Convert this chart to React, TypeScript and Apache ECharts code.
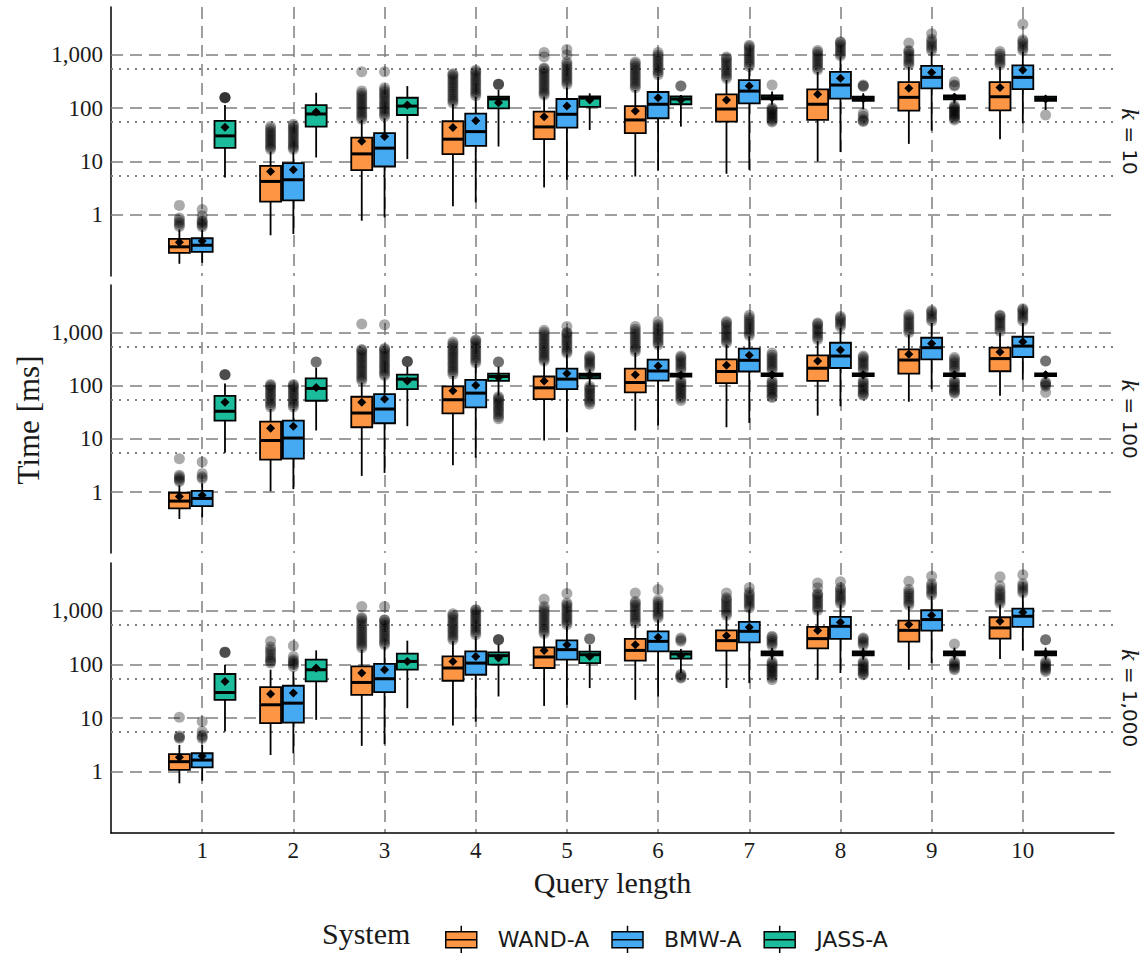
import React, { useEffect, useRef } from 'react';
import * as echarts from 'echarts';

// ---------- data ----------
const categories = ['1', '2', '3', '4', '5', '6', '7', '8', '9', '10'];
const systems = ['WAND-A', 'BMW-A', 'JASS-A'];
const facetLabels = ['10', '100', '1,000'];
const yTickValues = [1, 10, 100, 1000];
const yTickLabels = ['1', '10', '100', '1,000'];
const refLines = [5.5, 55, 550];

// box stats: [whisker low, Q1, median, Q3, whisker high] in ms
const wandK10Box = [
  [0.122, 0.195, 0.253, 0.357, 0.532], [0.416, 1.77, 4.24, 8.31, 15.4], [0.78, 6.91, 13.9, 28.0, 60],
  [1.45, 13.7, 26.2, 56.7, 119], [3.27, 26.2, 44.4, 85.7, 163], [5.25, 33.9, 60, 109, 218],
  [5.9, 55.7, 96.2, 181, 334], [10, 60, 118, 224, 478], [21.4, 89.4, 159, 307, 592], [26.2, 91, 163, 307, 592],
];
const bmwK10Box = [
  [0.127, 0.204, 0.271, 0.366, 0.53], [0.44, 1.87, 4.56, 9.33, 15.4], [0.9, 8.07, 17.8, 33.9, 64.5],
  [1.72, 19.6, 36.3, 78.6, 163], [4.56, 43.1, 76.6, 148, 244], [6.8, 64.5, 118, 200, 385],
  [7.0, 123, 208, 334, 553], [15, 150, 270, 478, 910], [37.9, 234, 376, 618, 1128], [52, 227, 376, 629, 1128],
];
const jassK10Box = [
  [5.03, 18.0, 30.2, 57.4, 114], [11.9, 45, 77.6, 114, 194], [11.1, 74.3, 109, 156, 258],
  [19.1, 99, 148, 163, 218], [39, 105, 154, 166, 189], [45, 118, 148, 166, 176],
  [115, 145, 156, 172, 205], [95, 137, 150, 163, 190], [123, 146, 159, 173, 189], [92, 137, 148, 163, 170],
];
const wandK10Mean = [0.308, 6.51, 24.0, 43.1, 69.1, 88.3, 142, 181, 234, 244];
const bmwK10Mean = [0.327, 7.0, 29.3, 58.2, 109, 156, 258, 360, 466, 514];
const jassK10Mean = [43.8, 84.6, 114, 126, 142, 142, 156, 150, 159, 148];
const wandK10Out = [
  [0.61, 0.66, 0.72, 0.8, 0.88, 1.51],
  [17, 18.5, 20, 22, 24, 26, 28.5, 31, 34, 37, 41, 45],
  [62, 68, 75, 82, 90, 99, 108, 118, 130, 143, 157, 172, 190, 210, 480],
  [125, 137, 150, 165, 182, 200, 220, 242, 265, 292, 320, 350, 385, 420, 440],
  [175, 192, 210, 230, 255, 280, 308, 340, 372, 410, 450, 495, 540, 560, 910, 1100],
  [240, 262, 290, 318, 350, 385, 423, 465, 510, 560, 615, 675, 730],
  [360, 395, 435, 478, 525, 578, 635, 700, 770, 845, 900],
  [520, 570, 628, 690, 760, 835, 920, 1010, 1110, 1200],
  [640, 700, 770, 850, 935, 1030, 1130, 1200, 1650],
  [640, 700, 770, 850, 935, 1030, 1150],
];
const bmwK10Out = [
  [0.6, 0.65, 0.69, 0.75, 0.8, 0.97, 1.26],
  [17, 18.5, 20, 22, 24, 26.5, 29, 32, 35, 38.5, 42, 46, 50],
  [70, 77, 85, 93, 102, 112, 123, 135, 149, 164, 180, 198, 218, 240, 480],
  [170, 187, 205, 225, 248, 272, 300, 330, 363, 400, 440, 480, 510],
  [280, 308, 338, 372, 410, 450, 495, 545, 600, 660, 730, 1000, 1250],
  [420, 462, 508, 560, 615, 677, 745, 820, 900, 990, 1100],
  [600, 660, 726, 800, 880, 968, 1065, 1170, 1290, 1400, 1500],
  [950, 1045, 1150, 1265, 1390, 1530, 1680, 1750],
  [1200, 1320, 1450, 1600, 1760, 1950, 2450],
  [1200, 1320, 1450, 1600, 1760, 1900, 3700],
];
const jassK10Out = [
  [156, 156, 156, 160], [], [], [278, 278, 280], [], [258, 260],
  [270, 100, 95, 90, 85, 80, 75, 70, 66, 62, 58, 55],
  [270, 260, 255, 80, 70, 62, 58, 56],
  [311, 270, 260, 110, 104, 98, 92, 87, 82, 77, 72, 68, 64, 60],
  [74],
];

const wandK100Box = [
  [0.313, 0.496, 0.68, 0.975, 1.35], [1.04, 4.08, 9.35, 21.2, 36.5], [2.02, 16.6, 30.7, 62, 115],
  [3.19, 30.3, 54.5, 96.9, 153], [9.35, 56.1, 91.2, 149, 272], [14.4, 74.8, 115, 210, 418],
  [16.6, 112, 185, 313, 597], [27.4, 123, 213, 372, 688], [50, 169, 304, 481, 917], [64.7, 187, 323, 518, 987],
];
const bmwK100Box = [
  [0.337, 0.548, 0.763, 1.06, 1.45], [1.14, 4.26, 10.4, 22.1, 36.5], [2.3, 19.7, 36.5, 69.6, 143],
  [4.44, 39.3, 72.6, 129, 253], [13.4, 86.3, 133, 210, 388], [17.8, 125, 189, 309, 555],
  [20, 185, 300, 496, 853], [41, 215, 361, 642, 1223], [86.3, 313, 518, 796, 1517], [129, 346, 555, 831, 1517],
];
const jassK100Box = [
  [5.51, 22.1, 33.1, 64.7, 110], [14.4, 52.2, 88.9, 137, 219], [17.4, 86.3, 133, 162, 229],
  [64.7, 123, 149, 169, 229], [102, 138, 157, 169, 204], [133, 149, 160, 169, 187],
  [133, 151, 161, 171, 187], [133, 151, 161, 171, 187], [133, 151, 161, 171, 187], [133, 151, 161, 171, 187],
];
const wandK100Mean = [0.83, 15.9, 48.7, 80.2, 123, 160, 242, 291, 388, 429];
const bmwK100Mean = [0.88, 17.4, 56.1, 102, 169, 235, 372, 467, 623, 670];
const jassK100Mean = [48.7, 92.8, 123, 143, 157, 157, 161, 161, 161, 161];
const wandK100Out = [
  [1.58, 1.7, 1.8, 1.95, 2.08, 4.26],
  [40, 44, 48, 53, 58, 64, 70, 77, 85, 93, 100, 105],
  [125, 137, 150, 165, 182, 200, 220, 242, 265, 292, 320, 350, 385, 420, 460, 480, 1450],
  [165, 182, 200, 220, 242, 265, 292, 320, 350, 385, 420, 460, 505, 555, 610, 660],
  [290, 320, 350, 385, 425, 465, 510, 560, 615, 680, 750, 820, 900, 1000, 1100],
  [440, 485, 530, 585, 645, 710, 780, 860, 945, 1040, 1150, 1300],
  [640, 705, 775, 850, 935, 1030, 1130, 1250, 1370, 1500, 1600],
  [740, 815, 895, 985, 1085, 1190, 1310, 1440, 1500],
  [1000, 1100, 1210, 1330, 1460, 1610, 1770, 1950, 2150],
  [1050, 1155, 1270, 1400, 1540, 1690, 1860, 2050, 2100],
];
const bmwK100Out = [
  [1.8, 1.95, 2.23, 3.69],
  [40, 44, 48, 53, 58, 64, 70, 77, 85, 93, 100, 105],
  [155, 170, 187, 205, 226, 248, 273, 300, 330, 363, 400, 440, 480, 500, 1400],
  [270, 297, 327, 360, 395, 435, 478, 525, 578, 635, 700, 720],
  [410, 450, 495, 545, 600, 660, 725, 800, 880, 970, 1000, 1300],
  [590, 650, 715, 785, 865, 950, 1045, 1150, 1265, 1390, 1600],
  [880, 970, 1065, 1170, 1290, 1420, 1560, 1720, 1890, 2100],
  [1280, 1410, 1550, 1700, 1870, 2000],
  [1650, 1815, 2000, 2200, 2420, 2600],
  [1650, 1815, 2000, 2200, 2420, 2650, 2800],
];
const jassK100Out = [
  [160, 160, 162], [279, 280], [284, 284, 286],
  [279, 279, 62, 58, 54, 50, 46, 42, 38, 35, 32, 29, 26, 24],
  [215, 235, 258, 283, 310, 340, 360, 98, 90, 83, 76, 70, 64, 58, 53, 49, 45],
  [195, 214, 235, 258, 283, 310, 340, 360, 125, 115, 106, 97, 89, 82, 75, 69, 63, 58, 53],
  [195, 214, 235, 258, 283, 310, 340, 373, 410, 125, 115, 106, 97, 89, 82, 75, 69, 63, 60],
  [195, 214, 235, 258, 283, 310, 340, 360, 125, 115, 106, 97, 89, 82, 75, 69, 66],
  [195, 214, 235, 258, 283, 310, 340, 125, 115, 106, 97, 89, 82, 76, 72],
  [290, 290, 118, 110, 104, 98, 75],
];

const wandK1000Box = [
  [0.607, 1.08, 1.54, 2.12, 3.16], [2.05, 8.04, 17.7, 37.9, 79.8], [3.03, 27.2, 46.2, 92, 189],
  [7.25, 49.7, 85.9, 141, 270], [16.9, 85.9, 138, 208, 360], [21.9, 118, 183, 299, 554],
  [36.3, 181, 278, 433, 793], [51.9, 200, 303, 502, 982], [79.8, 267, 433, 658, 1218], [126, 303, 481, 759, 1312],
];
const bmwK1000Box = [
  [0.679, 1.21, 1.65, 2.21, 3.16], [2.21, 8.25, 19, 40.1, 74.1], [3.25, 30.5, 54.2, 103, 212],
  [8.61, 64.3, 106, 175, 335], [17.7, 123, 189, 282, 515], [25.3, 175, 270, 415, 687],
  [45, 259, 415, 623, 1057], [69.2, 299, 515, 772, 1312], [106, 428, 687, 1025, 1875], [183, 502, 793, 1104, 2018],
];
const jassK1000Box = [
  [5.6, 21.9, 30, 66.4, 99], [9.27, 48.2, 79.8, 123, 183], [15.3, 79.8, 114, 159, 278],
  [25.3, 99, 146, 168, 234], [36.3, 106, 152, 173, 234], [69.2, 128, 157, 175, 195],
  [123, 148, 161, 175, 206], [123, 148, 161, 175, 206], [123, 148, 161, 175, 206], [123, 148, 161, 175, 206],
];
const wandK1000Mean = [1.86, 28, 69.2, 114, 183, 234, 345, 428, 554, 639];
const bmwK1000Mean = [1.97, 29.3, 79.8, 141, 234, 321, 493, 612, 827, 942];
const jassK1000Mean = [48.2, 85.9, 114, 132, 141, 146, 161, 161, 161, 161];
const wandK1000Out = [
  [4.21, 4.4, 4.65, 10.4],
  [106, 115, 123, 135, 152, 170, 189, 212, 270],
  [205, 225, 248, 272, 300, 330, 363, 400, 440, 485, 533, 586, 645, 710, 750, 1200],
  [290, 320, 350, 385, 425, 465, 510, 560, 615, 680, 750, 820, 880],
  [380, 418, 460, 505, 555, 610, 670, 740, 815, 895, 985, 1080, 1200, 1650],
  [590, 650, 715, 785, 865, 950, 1045, 1150, 1265, 1390, 1500, 2150],
  [830, 913, 1005, 1105, 1215, 1340, 1470, 1620, 1750, 2150],
  [1030, 1130, 1245, 1370, 1505, 1655, 1820, 2000, 2100, 2700, 3300],
  [1280, 1410, 1550, 1700, 1870, 2060, 2250, 2500, 3550],
  [1380, 1520, 1670, 1840, 2020, 2220, 2450, 2900, 4300],
];
const bmwK1000Out = [
  [4.21, 4.5, 4.86, 5.6, 8.61],
  [91, 100, 106, 115, 123, 141, 224],
  [235, 258, 284, 312, 343, 378, 415, 457, 503, 553, 608, 669, 680, 1200],
  [360, 396, 436, 480, 528, 580, 638, 702, 772, 850, 935, 1030, 1050],
  [550, 605, 665, 732, 805, 885, 975, 1070, 1180, 1300, 1400, 2100],
  [740, 815, 895, 985, 1085, 1190, 1310, 1440, 1600, 2500],
  [1130, 1245, 1370, 1505, 1655, 1820, 2000, 2200, 2700],
  [1380, 1520, 1670, 1840, 2020, 2220, 2450, 2700, 3500],
  [1980, 2180, 2400, 2640, 2900, 3200, 4400],
  [2180, 2400, 2640, 2900, 3200, 4700],
];
const jassK1000Out = [
  [168, 168, 170], [], [], [290, 290, 292], [299, 300],
  [270, 290, 312, 66, 62, 58, 56],
  [225, 245, 268, 292, 320, 335, 112, 104, 97, 90, 84, 78, 72, 67, 62, 57, 52],
  [228, 250, 272, 298, 312, 112, 104, 97, 90, 84, 78, 72, 67, 64],
  [240, 112, 104, 97, 91, 85, 80],
  [290, 290, 112, 104, 97, 91, 85, 79, 74],
];

// ---------- styling / layout ----------
const COLORS = ['#fd9644', '#45aaf2', '#1abc9c'];
const OFFSETS = [-0.25, 0, 0.25];
const BOX_W = 0.23;
const GRID_LEFT = 111;
const GRID_WIDTH = 1003;
const GRID_TOPS = [7, 285, 563];
const GRID_HEIGHTS = [269, 268, 270];
const Y_MIN = 0.072;
const Y_MAX = 7800;
const SERIF = '"Liberation Serif", "DejaVu Serif", serif';
const SANS = '"DejaVu Sans", sans-serif';
const GRID_COLOR = '#7f7f7f';

const panels = [
  { box: [wandK10Box, bmwK10Box, jassK10Box], mean: [wandK10Mean, bmwK10Mean, jassK10Mean], out: [wandK10Out, bmwK10Out, jassK10Out] },
  { box: [wandK100Box, bmwK100Box, jassK100Box], mean: [wandK100Mean, bmwK100Mean, jassK100Mean], out: [wandK100Out, bmwK100Out, jassK100Out] },
  { box: [wandK1000Box, bmwK1000Box, jassK1000Box], mean: [wandK1000Mean, bmwK1000Mean, jassK1000Mean], out: [wandK1000Out, bmwK1000Out, jassK1000Out] },
];

function renderBox(_params: any, api: any) {
  const x = api.value(0);
  const lo = api.value(1);
  const q1 = api.value(2);
  const med = api.value(3);
  const q3 = api.value(4);
  const hi = api.value(5);
  const pL = api.coord([x - BOX_W / 2, med]);
  const pR = api.coord([x + BOX_W / 2, med]);
  const pC = api.coord([x, med]);
  const yLo = api.coord([x, lo])[1];
  const yQ1 = api.coord([x, q1])[1];
  const yQ3 = api.coord([x, q3])[1];
  const yHi = api.coord([x, hi])[1];
  const color = api.visual('color');
  const stroke = '#000';
  return {
    type: 'group',
    children: [
      { type: 'line', shape: { x1: pC[0], y1: yHi, x2: pC[0], y2: yQ3 }, style: { stroke, lineWidth: 1.8 } },
      { type: 'line', shape: { x1: pC[0], y1: yQ1, x2: pC[0], y2: yLo }, style: { stroke, lineWidth: 1.8 } },
      {
        type: 'rect',
        shape: { x: pL[0], y: yQ3, width: pR[0] - pL[0], height: Math.max(yQ1 - yQ3, 0.5) },
        style: { fill: color, stroke, lineWidth: 1.8 },
      },
      { type: 'line', shape: { x1: pL[0], y1: pC[1], x2: pR[0], y2: pC[1] }, style: { stroke, lineWidth: 3 } },
    ],
  };
}

function buildOption() {
  const grid = GRID_TOPS.map((top, i) => ({ left: GRID_LEFT, width: GRID_WIDTH, top, height: GRID_HEIGHTS[i] }));
  const last = panels.length - 1;
  const xAxis = panels.map((_, p) => ({
    type: 'value',
    gridIndex: p,
    min: 0,
    max: 11,
    interval: 1,
    axisLine: { show: p === last, onZero: false, lineStyle: { color: '#000', width: 1.5 } },
    axisTick: { show: false },
    axisLabel: {
      show: p === last,
      margin: 6,
      fontFamily: SERIF,
      fontSize: 23,
      color: '#1a1a1a',
      formatter: (v: number) => (v >= 1 && v <= categories.length ? categories[v - 1] : ''),
    },
    splitLine: {
      show: true,
      showMinLine: false,
      showMaxLine: false,
      lineStyle: { type: [12, 7], color: GRID_COLOR, width: 1.5 },
    },
    name: p === last ? 'Query length' : '',
    nameLocation: 'middle',
    nameGap: 34,
    nameTextStyle: { fontFamily: SERIF, fontSize: 30, color: '#1a1a1a' },
  }));
  const yAxis = panels.map((_, p) => ({
    type: 'log',
    logBase: 10,
    gridIndex: p,
    min: Y_MIN,
    max: Y_MAX,
    axisLine: { show: true, lineStyle: { color: '#000', width: 1.5 } },
    axisTick: { show: false },
    splitLine: { show: false },
    axisLabel: {
      margin: 8,
      fontFamily: SERIF,
      fontSize: 23,
      color: '#1a1a1a',
      showMinLabel: false,
      showMaxLabel: false,
      formatter: (v: number) => {
        const idx = yTickValues.findIndex((t) => Math.abs(v - t) < 1e-6 * t);
        return idx >= 0 ? yTickLabels[idx] : '';
      },
    },
  }));

  const series: any[] = [];
  panels.forEach((panel, p) => {
    const outData: number[][] = [];
    panel.out.forEach((sysOut, s) =>
      sysOut.forEach((vals, i) => vals.forEach((v) => outData.push([i + 1 + OFFSETS[s], v]))),
    );
    series.push({
      type: 'scatter',
      xAxisIndex: p,
      yAxisIndex: p,
      data: outData,
      symbol: 'circle',
      symbolSize: 11,
      itemStyle: { color: 'rgba(0,0,0,0.33)', opacity: 1 },
      silent: true,
      z: 2,
      markLine: {
        silent: true,
        symbol: 'none',
        z: 1,
        label: { show: false },
        animation: false,
        data: [
          ...yTickValues.map((v) => ({ yAxis: v, lineStyle: { type: [12, 7], color: GRID_COLOR, width: 1.5 } })),
          ...refLines.map((v) => ({ yAxis: v, lineStyle: { type: [2, 6], color: GRID_COLOR, width: 1.8 } })),
        ],
      },
    });
    panel.box.forEach((boxes, s) => {
      series.push({
        type: 'custom',
        name: systems[s],
        xAxisIndex: p,
        yAxisIndex: p,
        itemStyle: { color: COLORS[s] },
        renderItem: renderBox,
        encode: { x: 0, y: [1, 2, 3, 4, 5] },
        data: boxes.map((b, i) => [i + 1 + OFFSETS[s], ...b]),
        z: 3,
      });
    });
    const meanData: number[][] = [];
    panel.mean.forEach((means, s) => means.forEach((m, i) => meanData.push([i + 1 + OFFSETS[s], m])));
    series.push({
      type: 'scatter',
      xAxisIndex: p,
      yAxisIndex: p,
      data: meanData,
      symbol: 'diamond',
      symbolSize: 9,
      itemStyle: { color: '#000', opacity: 1 },
      silent: true,
      z: 4,
    });
  });

  const graphic: any[] = [
    {
      type: 'text',
      x: 28,
      y: 420,
      rotation: Math.PI / 2,
      style: { text: 'Time [ms]', fontFamily: SERIF, fontSize: 31, fill: '#1a1a1a', align: 'center', verticalAlign: 'middle' },
    },
    {
      type: 'text',
      x: 322,
      y: 933,
      style: { text: 'System', fontFamily: SERIF, fontSize: 30, fill: '#1a1a1a', align: 'left', verticalAlign: 'middle' },
    },
    ...facetLabels.map((lab, p) => ({
      type: 'text',
      x: 1130,
      y: GRID_TOPS[p] + GRID_HEIGHTS[p] / 2,
      rotation: -Math.PI / 2,
      style: {
        text: `{k|k} = ${lab}`,
        fontFamily: SANS,
        fontSize: 20,
        fill: '#1a1a1a',
        align: 'center',
        verticalAlign: 'middle',
        rich: { k: { fontFamily: SERIF, fontStyle: 'italic', fontSize: 26, fill: '#1a1a1a' } },
      },
    })),
  ];

  return {
    animation: false,
    backgroundColor: '#ffffff',
    grid,
    xAxis,
    yAxis,
    series,
    graphic,
    legend: {
      data: systems,
      left: 440,
      top: 920,
      orient: 'horizontal',
      selectedMode: false,
      itemWidth: 31,
      itemHeight: 28,
      itemGap: 22,
      icon: 'path://M0,6 L31,6 L31,22 L0,22 Z M0,14 L31,14 M15.5,0 L15.5,6 M15.5,22 L15.5,28',
      itemStyle: { borderColor: '#000', borderWidth: 1.5 },
      textStyle: { fontFamily: SANS, fontSize: 22, color: '#1a1a1a', padding: [0, 0, 0, 16] },
    },
  };
}

export default function App() {
  const ref = useRef<HTMLDivElement>(null);
  useEffect(() => {
    document.body.style.margin = '0';
    if (!ref.current) return;
    const chart = echarts.init(ref.current, undefined, { renderer: 'svg' });
    chart.setOption(buildOption() as any);
    return () => chart.dispose();
  }, []);
  return <div ref={ref} style={{ width: 1146, height: 953 }} />;
}
